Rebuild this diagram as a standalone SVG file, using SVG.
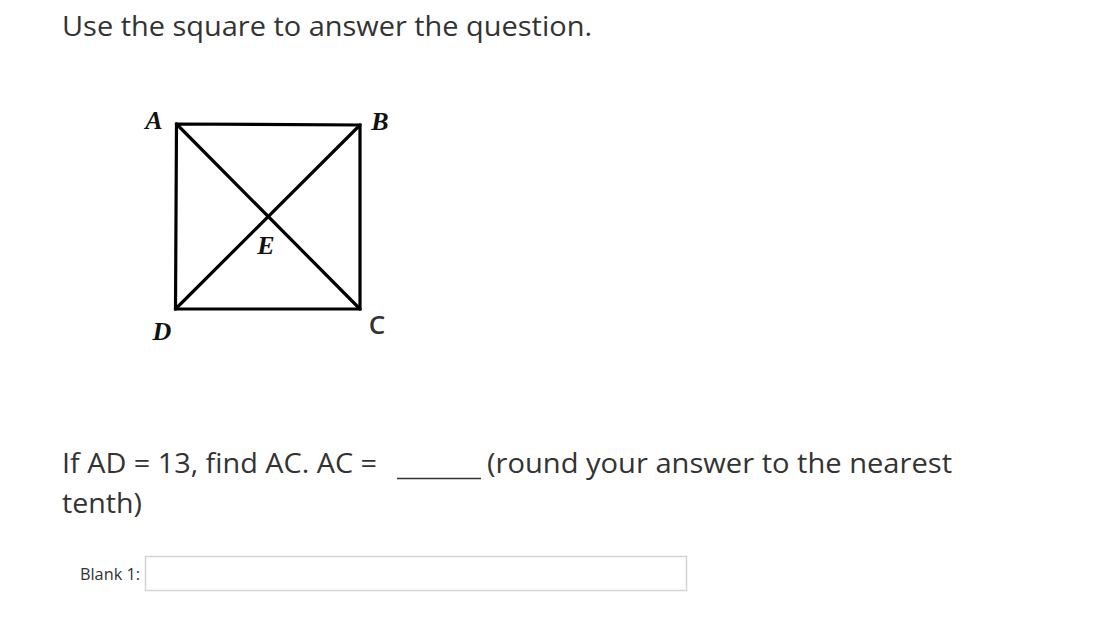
<svg xmlns="http://www.w3.org/2000/svg" width="1112" height="632" viewBox="0 0 1112 632">
<style>
.t{font-family:"Open Sans","Noto Sans",sans-serif;fill:#333;}
.lbl{font-family:"Liberation Serif","Times New Roman",serif;font-style:italic;font-weight:bold;font-size:26px;fill:#111;text-anchor:middle;}
.edge{stroke:#000;stroke-width:3.2;fill:none;stroke-linecap:round;}
</style>
<rect width="1112" height="632" fill="#fff"/>
<text class="t" x="62" y="36" font-size="28" textLength="530" lengthAdjust="spacingAndGlyphs">Use the square to answer the question.</text>
<g id="connectors">
<path class="edge" d="M176.5 124 L360 125 L360 309 L175.5 309 Z"/>
<path class="edge" d="M176.5 124 L360 309"/>
<path class="edge" d="M360 125 L175.5 309"/>
</g>
<g id="node-A"><text class="lbl" x="154" y="129">A</text></g>
<g id="node-B"><text class="lbl" x="380" y="130">B</text></g>
<g id="node-E"><text class="lbl" x="266" y="254">E</text></g>
<g id="node-D"><text class="lbl" x="162" y="340">D</text></g>
<g id="node-C"><text class="t" x="377" y="334" font-size="26" font-weight="600" text-anchor="middle" fill="#111">C</text></g>
<text class="t" x="62" y="473" font-size="28" textLength="315" lengthAdjust="spacingAndGlyphs">If AD = 13, find AC. AC =</text>
<line x1="397" y1="478.5" x2="481" y2="478.5" stroke="#333" stroke-width="1.5"/>
<text class="t" x="487" y="473" font-size="28" textLength="465" lengthAdjust="spacingAndGlyphs">(round your answer to the nearest</text>
<text class="t" x="62" y="513" font-size="28" textLength="80" lengthAdjust="spacingAndGlyphs">tenth)</text>
<text class="t" x="80" y="580" font-size="16" textLength="60" lengthAdjust="spacingAndGlyphs">Blank 1:</text>
<rect x="145.5" y="556.5" width="541" height="34" fill="#fff" stroke="#d4d4d4" stroke-width="1.5"/>
</svg>
